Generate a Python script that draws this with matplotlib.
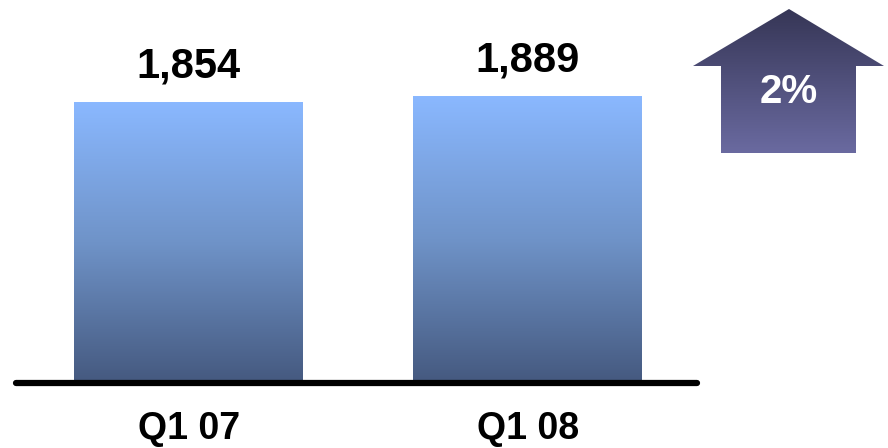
import numpy as np
import matplotlib
matplotlib.use("Agg")
import matplotlib.pyplot as plt
from matplotlib.colors import LinearSegmentedColormap
from matplotlib.patches import Polygon

plt.rcParams['font.family'] = ['Liberation Sans', 'DejaVu Sans']

categories = ["Q1 07", "Q1 08"]
values = [1854, 1889]
change_label = "2%"

W, H = 888, 448


def main():
    fig = plt.figure(figsize=(W / 100, H / 100), dpi=100)

    # main axes: x spans the baseline (15..698 px), y from baseline (383 px) to top
    ax = fig.add_axes([15 / W, (H - 383) / H, (698 - 15) / W, 383 / H])
    ax.set_xlim(-0.510, 1.504)
    ax.set_ylim(0, 2527)
    ax.axis('off')

    bar_cmap = LinearSegmentedColormap.from_list("bar", ["#45597f", "#6f93c8", "#8ab8ff"])
    grad = np.linspace(0, 1, 256).reshape(-1, 1)
    width = 0.6726
    for i, v in enumerate(values):
        ax.imshow(grad, cmap=bar_cmap, origin='lower', aspect='auto',
                  extent=(i - width / 2, i + width / 2, 0, v), zorder=1)
        ax.annotate(f"{v:,}", (i, v), xytext=(0, 18), textcoords='offset points',
                    ha='center', va='baseline', fontsize=30, fontweight='bold')
        fig.text((189 + 339 * i) / W, 1 - 439 / H, categories[i], ha='center', va='baseline',
                 fontsize=27, fontweight='bold')
    ax.set_xlim(-0.510, 1.504)
    ax.set_ylim(0, 2527)

    # baseline
    fig.add_artist(plt.Line2D([16 / W, 697 / W], [(H - 383) / H] * 2, color='black',
                              lw=4.5, solid_capstyle='round'))

    # up arrow with gradient
    ax2 = fig.add_axes([0, 0, 1, 1])
    ax2.set_xlim(0, W)
    ax2.set_ylim(H, 0)
    ax2.axis('off')
    pts = [(789, 9), (884, 66), (856, 66), (856, 153), (721, 153), (721, 66), (693, 66)]
    poly = Polygon(pts, closed=True, facecolor='none', edgecolor='none')
    ax2.add_patch(poly)
    arrow_cmap = LinearSegmentedColormap.from_list("arr", ["#363656", "#6a6aa0"])
    im = ax2.imshow(grad, cmap=arrow_cmap, origin='lower', aspect='auto',
                    extent=(693, 884, 9, 153))
    im.set_clip_path(poly)
    ax2.set_xlim(0, W)
    ax2.set_ylim(H, 0)
    ax2.text(789, 103, change_label, ha='center', va='baseline', color='white',
             fontsize=29, fontweight='bold')

    fig.savefig("out.png", dpi=100)
    plt.close(fig)


if __name__ == "__main__":
    main()
